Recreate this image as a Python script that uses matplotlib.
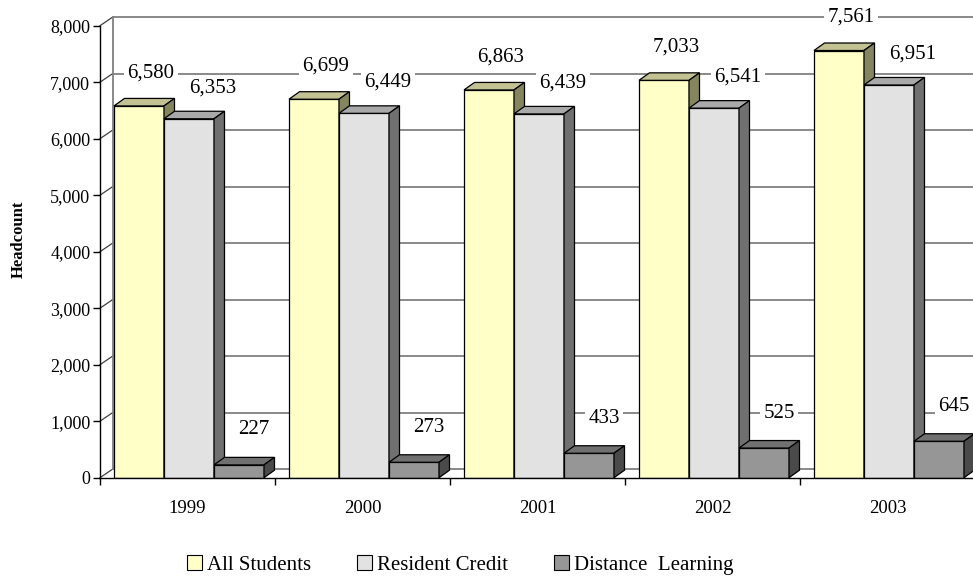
import matplotlib
matplotlib.use("Agg")
import matplotlib.pyplot as plt
from matplotlib.patches import Polygon, Patch

# ---- data ----
years = ["1999", "2000", "2001", "2002", "2003"]
series_names = ["All Students", "Resident Credit", "Distance  Learning"]
all_students = [6580, 6699, 6863, 7033, 7561]
resident_credit = [6353, 6449, 6439, 6541, 6951]
distance_learning = [227, 273, 433, 525, 645]
y_ticks = [0, 1000, 2000, 3000, 4000, 5000, 6000, 7000, 8000]
y_tick_labels = ["0", "1,000", "2,000", "3,000", "4,000", "5,000", "6,000", "7,000", "8,000"]

series = [all_students, resident_credit, distance_learning]
front_cols = ["#FFFFC8", "#E2E2E2", "#969696"]
top_cols = ["#C2C292", "#A9A9A9", "#707070"]
side_cols = ["#858560", "#707070", "#4A4A4A"]

plt.rcParams['font.family'] = ['Liberation Serif', 'DejaVu Serif']

W, H = 973, 579
fig = plt.figure(figsize=(W / 100, H / 100), dpi=100)
x0px, x1px = 100, 975
y0px, y1px = 477.7, 25.7
ax = fig.add_axes([x0px / W, (H - y0px) / H, (x1px - x0px) / W, (y0px - y1px) / H])
ax.set_xlim(0, 5)
ax.set_ylim(0, 8000)
ax.patch.set_alpha(0)

pxx = (x1px - x0px) / 5.0        # px per x unit
pxy = (y0px - y1px) / 8000.0     # px per y unit

# wall depth and bar depth (in data units)
wdx, wdy = 12.5 / pxx, 8.5 / pxy
bdx, bdy = 10.5 / pxx, 7.5 / pxy

grid_col = "#808080"
# back wall gridlines
for v in y_ticks:
    ax.plot([wdx, 5 + wdx], [v + wdy, v + wdy], color=grid_col, lw=1.3,
            clip_on=False, zorder=1, solid_capstyle='butt')
    ax.plot([0, wdx], [v, v + wdy], color="#404040", lw=0.9, clip_on=False, zorder=1)
ax.plot([wdx, wdx], [wdy, 8000 + wdy], color=grid_col, lw=1.3, clip_on=False, zorder=1)

# bars
bw = 50.0 / pxx
gap0 = 14.0 / pxx
for j, vals in enumerate(series):
    xs = [i + gap0 + j * bw for i in range(len(years))]
    z = 3 + j
    ax.bar(xs, vals, width=bw, align='edge', color=front_cols[j], edgecolor='black',
           linewidth=0.9, zorder=z)
    for x, v in zip(xs, vals):
        top = Polygon([(x, v), (x + bdx, v + bdy), (x + bw + bdx, v + bdy), (x + bw, v)],
                      closed=True, facecolor=top_cols[j], edgecolor='black', lw=0.9,
                      zorder=z + 0.1, clip_on=False)
        side = Polygon([(x + bw, 0), (x + bw + bdx, bdy), (x + bw + bdx, v + bdy), (x + bw, v)],
                       closed=True, facecolor=side_cols[j], edgecolor='black', lw=0.9,
                       zorder=z + 0.2, clip_on=False)
        ax.add_patch(top)
        ax.add_patch(side)

# value labels
label_offsets = [(12, 33), (24, 31), (15, 35)]
for j, vals in enumerate(series):
    for i, v in enumerate(vals):
        xc = i + gap0 + j * bw + bw / 2
        ax.annotate(f"{v:,}", (xc, v), xytext=label_offsets[j], textcoords='offset pixels',
                    ha='center', va='center', fontsize=15, zorder=20,
                    bbox=dict(boxstyle='square,pad=0.15', facecolor='white', edgecolor='none'),
                    annotation_clip=False)

# axes styling
for s in ['top', 'right']:
    ax.spines[s].set_visible(False)
ax.spines['left'].set_color('black')
ax.spines['bottom'].set_color('black')
ax.spines['left'].set_linewidth(1.0)
ax.spines['bottom'].set_linewidth(1.0)
ax.spines['left'].set_zorder(10)
ax.spines['bottom'].set_zorder(10)

ax.set_yticks(y_ticks)
ax.set_yticklabels(y_tick_labels, fontsize=13)
ax.tick_params(axis='y', direction='out', length=5, width=1, pad=2)

ax.set_xticks([0, 1, 2, 3, 4, 5])
ax.set_xticklabels([])
ax.set_xticks([i + 0.5 for i in range(len(years))], minor=True)
ax.set_xticklabels(years, minor=True, fontsize=13.5)
ax.tick_params(axis='x', which='major', direction='out', length=5, width=1)
ax.tick_params(axis='x', which='minor', length=0, pad=16)

fig.text(19 / W, 1 - 239 / H, "Headcount", rotation=90, ha='center', va='center',
         fontsize=12, fontweight='bold')

handles = [Patch(facecolor=front_cols[j], edgecolor='black', linewidth=0.8) for j in range(3)]
fig.legend(handles, series_names, loc='center', bbox_to_anchor=(460 / W, 1 - 565 / H),
           ncol=3, frameon=False, fontsize=15, handlelength=0.72, handleheight=0.72,
           handletextpad=0.24, columnspacing=2.2, borderpad=0, borderaxespad=0)

fig.savefig("out.png", dpi=100)
